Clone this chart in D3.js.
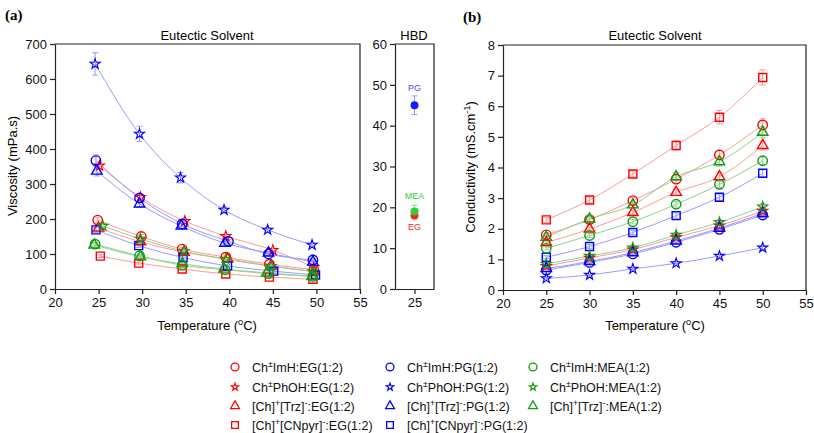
<!DOCTYPE html>
<html>
<head>
<meta charset="utf-8">
<script src="https://cdn.jsdelivr.net/npm/d3@7"></script>
<style>
  body { margin: 0; background: #fff; }
  svg { font-family: "Liberation Sans", Arial, sans-serif; }
</style>
</head>
<body>
<svg id="chart" width="814" height="433"></svg>
<script>
// series order follows the legend (column by column)
const seriesHBD   = ['EG', 'EG', 'EG', 'EG', 'PG', 'PG', 'PG', 'PG', 'MEA', 'MEA', 'MEA'];
const seriesAnion = ['ImH', 'PhOH', 'Trz', 'CNpyr', 'ImH', 'PhOH', 'Trz', 'CNpyr', 'ImH', 'PhOH', 'Trz'];

// (a) viscosity, mPa.s; temperatures as plotted (slightly staggered)
const viscTemps = [
  [24.9, 29.9, 34.6, 39.6, 44.6, 49.7],
  [25.1, 29.8, 34.9, 39.6, 45.0, 49.7],
  [25.0, 29.8, 34.8, 39.8, 44.8, 49.7],
  [25.2, 29.6, 34.6, 39.6, 44.6, 49.6],
  [24.7, 29.7, 34.6, 39.9, 44.5, 49.6],
  [24.6, 29.7, 34.4, 39.4, 44.4, 49.5],
  [24.8, 29.7, 34.5, 39.5, 44.5, 49.6],
  [24.7, 29.6, 34.7, 39.8, 45.1, 49.9],
  [24.6, 29.7, 34.6, 39.5, 44.5, 49.6],
  [25.5, 29.8, 34.8, 39.6, 44.8, 49.6],
  [24.5, 29.8, 34.6, 39.4, 44.3, 49.5]
];
const viscValues = [
  [197, 150, 114, 91, 71, 55],
  [352, 262, 194, 151, 111, 62],
  [174, 135, 105, 86, 66, 50],
  [94, 74, 57, 43, 34, 28],
  [367, 260, 186, 136, 100, 83],
  [643, 443, 318, 226, 169, 126],
  [337, 243, 180, 131, 103, 77],
  [169, 124, 90, 66, 51, 40],
  [128, 95, 68, 55, 44, 36],
  [180, 143, 108, 85, 65, 50],
  [126, 92, 72, 57, 46, 36]
];
const viscErr = [
  [8, 6, 5, 4, 3, 3],
  [10, 8, 6, 5, 4, 3],
  [7, 6, 5, 4, 3, 3],
  [4, 3, 3, 2, 2, 2],
  [16, 10, 7, 5, 4, 3],
  [32, 22, 15, 8, 6, 5],
  [14, 10, 7, 5, 4, 3],
  [7, 5, 4, 3, 3, 2],
  [5, 4, 3, 3, 2, 2],
  [7, 6, 4, 4, 3, 2],
  [5, 4, 3, 3, 2, 2]
];

// HBD viscosity at 25 °C
const hbdNames  = ['PG', 'MEA', 'EG'];
const hbdValues = [45, 19, 18];
const hbdErr    = [2.3, 1.5, 0.8];

// (b) conductivity, mS/cm
const condTemps = [25, 30, 35, 40, 45, 50];
const condValues = [
  [1.80, 2.30, 2.92, 3.62, 4.41, 5.39],
  [0.78, 1.05, 1.32, 1.72, 2.10, 2.58],
  [1.55, 1.99, 2.53, 3.19, 3.70, 4.72],
  [2.29, 2.94, 3.79, 4.72, 5.64, 6.94],
  [0.65, 0.90, 1.18, 1.56, 1.98, 2.45],
  [0.38, 0.49, 0.69, 0.87, 1.11, 1.38],
  [0.70, 0.93, 1.22, 1.60, 2.02, 2.50],
  [1.07, 1.42, 1.88, 2.43, 3.03, 3.81],
  [1.36, 1.78, 2.23, 2.80, 3.45, 4.22],
  [0.85, 1.11, 1.38, 1.80, 2.21, 2.72],
  [1.72, 2.32, 2.78, 3.70, 4.19, 5.15]
];
const condErr = [
  [0.06, 0.08, 0.10, 0.12, 0.15, 0.20],
  [0.04, 0.05, 0.06, 0.07, 0.08, 0.10],
  [0.05, 0.06, 0.08, 0.10, 0.12, 0.15],
  [0.08, 0.10, 0.10, 0.15, 0.22, 0.25],
  [0.03, 0.04, 0.05, 0.06, 0.07, 0.08],
  [0.03, 0.03, 0.04, 0.05, 0.05, 0.06],
  [0.03, 0.04, 0.05, 0.06, 0.07, 0.08],
  [0.05, 0.06, 0.07, 0.09, 0.10, 0.12],
  [0.05, 0.06, 0.07, 0.09, 0.10, 0.12],
  [0.04, 0.05, 0.06, 0.07, 0.08, 0.10],
  [0.06, 0.08, 0.10, 0.12, 0.15, 0.18]
];

const markColor = { EG: '#ff0000', PG: '#0000ff', MEA: '#109a10' };
const lineColor = { EG: '#ff9a9a', PG: '#9a9aff', MEA: '#8fd28f' };
const hbdColor  = { EG: '#ff2020', PG: '#1a1aff', MEA: '#33cc33' };
const shapeOf = { ImH: d3.symbolCircle, PhOH: d3.symbolStar, Trz: d3.symbolTriangle, CNpyr: d3.symbolSquare };
const sizeOf  = { ImH: 70, PhOH: 32, Trz: 48, CNpyr: 64 };

const svg = d3.select('#chart');

function supText(sel, parts) {
  parts.forEach(p => {
    const t = sel.append('tspan').text(p.t);
    if (p.sup) t.attr('baseline-shift', 'super').attr('font-size', '70%');
  });
}

function frame(g, x, y, xTicks, yTicks, fmtY) {
  const [x0, x1] = x.range();
  const [y0, y1] = y.range();
  const xAxis = g.append('g').attr('transform', `translate(0,${y0})`)
    .call(d3.axisBottom(x).tickValues(xTicks).tickSize(5).tickSizeOuter(0).tickPadding(4));
  const yAxis = g.append('g').attr('transform', `translate(${x0},0)`)
    .call(d3.axisLeft(y).tickValues(yTicks).tickSize(5).tickSizeOuter(0).tickPadding(3).tickFormat(fmtY || d3.format('d')));
  [xAxis, yAxis].forEach(a => {
    a.selectAll('text').attr('font-size', 13).attr('fill', '#111').attr('font-family', '"Liberation Sans", Arial, sans-serif');
    a.selectAll('line,path').attr('stroke', '#222').attr('stroke-width', 1.2);
  });
  g.append('path')
    .attr('d', `M${x0},${y1}H${x1}V${y0}`)
    .attr('fill', 'none').attr('stroke', '#222').attr('stroke-width', 1.2);
}

function drawSeries(g, x, y, temps, values, errs) {
  values.forEach((vals, i) => {
    const hbd = seriesHBD[i];
    const ts = Array.isArray(temps[0]) ? temps[i] : temps;
    const pts = vals.map((v, j) => ({ t: ts[j], v, e: errs[i][j] }));
    g.append('path').datum(pts)
      .attr('d', d3.line().x(d => x(d.t)).y(d => y(d.v)).curve(d3.curveMonotoneX))
      .attr('fill', 'none').attr('stroke', lineColor[hbd]).attr('stroke-width', 1);
    const eb = g.append('g').attr('stroke', lineColor[hbd]).attr('stroke-width', 1);
    pts.forEach(d => {
      const cx = x(d.t);
      eb.append('line').attr('x1', cx).attr('x2', cx).attr('y1', y(d.v - d.e)).attr('y2', y(d.v + d.e));
      eb.append('line').attr('x1', cx - 3).attr('x2', cx + 3).attr('y1', y(d.v + d.e)).attr('y2', y(d.v + d.e));
      eb.append('line').attr('x1', cx - 3).attr('x2', cx + 3).attr('y1', y(d.v - d.e)).attr('y2', y(d.v - d.e));
    });
  });
  values.forEach((vals, i) => {
    const hbd = seriesHBD[i], an = seriesAnion[i];
    const ts = Array.isArray(temps[0]) ? temps[i] : temps;
    const sym = d3.symbol(shapeOf[an], sizeOf[an]);
    g.selectAll(null).data(vals).join('path')
      .attr('transform', (v, j) => `translate(${x(ts[j])},${y(v)})`)
      .attr('d', sym)
      .attr('fill', 'none').attr('stroke', markColor[hbd])
      .attr('stroke-width', an === 'PhOH' ? 1.1 : 1.4)
      .attr('stroke-linejoin', 'miter');
  });
}

// ---------- panel (a) ----------
const ga = svg.append('g');
const xa = d3.scaleLinear().domain([20, 55]).range([55, 360]);
const ya = d3.scaleLinear().domain([0, 700]).range([289, 44]);
frame(ga, xa, ya, d3.range(20, 56, 5), d3.range(0, 701, 100));
drawSeries(ga, xa, ya, viscTemps, viscValues, viscErr);

ga.append('text').attr('x', 207).attr('y', 40).attr('text-anchor', 'middle')
  .attr('font-size', 13).text('Eutectic Solvent');
supText(ga.append('text').attr('x', 207).attr('y', 330).attr('text-anchor', 'middle').attr('font-size', 13),
  [{ t: 'Temperature (' }, { t: 'o', sup: true }, { t: 'C)' }]);
ga.append('text').attr('transform', 'translate(17,166) rotate(-90)').attr('text-anchor', 'middle')
  .attr('font-size', 13).text('Viscosity (mPa.s)');
svg.append('text').attr('x', 5).attr('y', 20).attr('font-family', '"Liberation Serif", "Times New Roman", serif')
  .attr('font-weight', 'bold').attr('font-size', 15).text('(a)');

// ---------- HBD inset ----------
const gh = svg.append('g');
const xh = d3.scaleLinear().domain([20, 30]).range([395, 434]);
const yh = d3.scaleLinear().domain([0, 60]).range([289, 44]);
frame(gh, xh, yh, [25], d3.range(0, 61, 10));
gh.append('text').attr('x', 414).attr('y', 40).attr('text-anchor', 'middle').attr('font-size', 13).text('HBD');
hbdNames.forEach((n, i) => {
  const cx = xh(25);
  gh.append('line').attr('x1', cx).attr('x2', cx).attr('y1', yh(hbdValues[i] - hbdErr[i])).attr('y2', yh(hbdValues[i] + hbdErr[i]))
    .attr('stroke', lineColor[n]).attr('stroke-width', 1);
  [hbdValues[i] - hbdErr[i], hbdValues[i] + hbdErr[i]].forEach(v =>
    gh.append('line').attr('x1', cx - 3).attr('x2', cx + 3).attr('y1', yh(v)).attr('y2', yh(v))
      .attr('stroke', lineColor[n]).attr('stroke-width', 1));
});
[2, 0, 1].forEach(i => {
  const n = hbdNames[i];
  gh.append('circle').attr('cx', xh(25)).attr('cy', yh(hbdValues[i])).attr('r', 4)
    .attr('fill', hbdColor[n]);
});
const hbdLabelY = { PG: yh(48.5), MEA: yh(22), EG: yh(14.5) };
hbdNames.forEach(n => {
  gh.append('text').attr('x', xh(25)).attr('y', hbdLabelY[n]).attr('text-anchor', 'middle')
    .attr('font-size', 9).attr('fill', n === 'PG' ? '#4a4aff' : hbdColor[n]).text(n);
});

// ---------- panel (b) ----------
const gb = svg.append('g');
const xb = d3.scaleLinear().domain([20, 55]).range([503, 806]);
const yb = d3.scaleLinear().domain([0, 8]).range([290, 45]);
frame(gb, xb, yb, d3.range(20, 56, 5), d3.range(0, 9, 1));
drawSeries(gb, xb, yb, condTemps, condValues, condErr);

gb.append('text').attr('x', 655).attr('y', 40).attr('text-anchor', 'middle')
  .attr('font-size', 13).text('Eutectic Solvent');
supText(gb.append('text').attr('x', 655).attr('y', 330).attr('text-anchor', 'middle').attr('font-size', 13),
  [{ t: 'Temperature (' }, { t: 'o', sup: true }, { t: 'C)' }]);
supText(gb.append('text').attr('transform', 'translate(475,167) rotate(-90)').attr('text-anchor', 'middle').attr('font-size', 13),
  [{ t: 'Conductivity (mS.cm' }, { t: '-1', sup: true }, { t: ')' }]);
svg.append('text').attr('x', 463).attr('y', 22).attr('font-family', '"Liberation Serif", "Times New Roman", serif')
  .attr('font-weight', 'bold').attr('font-size', 15).text('(b)');

// ---------- legend ----------
const legCols = { EG: 235, PG: 390, MEA: 533 };
const legRow = { ImH: 367, PhOH: 387, Trz: 406, CNpyr: 425 };
const lg = svg.append('g');
seriesHBD.forEach((hbd, i) => {
  const an = seriesAnion[i];
  const lx = legCols[hbd], ly = legRow[an];
  lg.append('path').attr('transform', `translate(${lx},${ly})`)
    .attr('d', d3.symbol(shapeOf[an], sizeOf[an] * (an === 'PhOH' ? 0.55 : 0.7)))
    .attr('fill', 'none').attr('stroke', markColor[hbd]).attr('stroke-width', an === 'PhOH' ? 1.1 : 1.3);
  const t = lg.append('text').attr('x', lx + 17).attr('y', ly + 4.5).attr('font-size', 12.5).attr('fill', '#111');
  const parts = (an === 'ImH' || an === 'PhOH')
    ? [{ t: 'Ch' }, { t: '±', sup: true }, { t: `${an}:${hbd}(1:2)` }]
    : [{ t: '[Ch]' }, { t: '+', sup: true }, { t: `[${an}]` }, { t: '-', sup: true }, { t: `:${hbd}(1:2)` }];
  supText(t, parts);
});
</script>
</body>
</html>
